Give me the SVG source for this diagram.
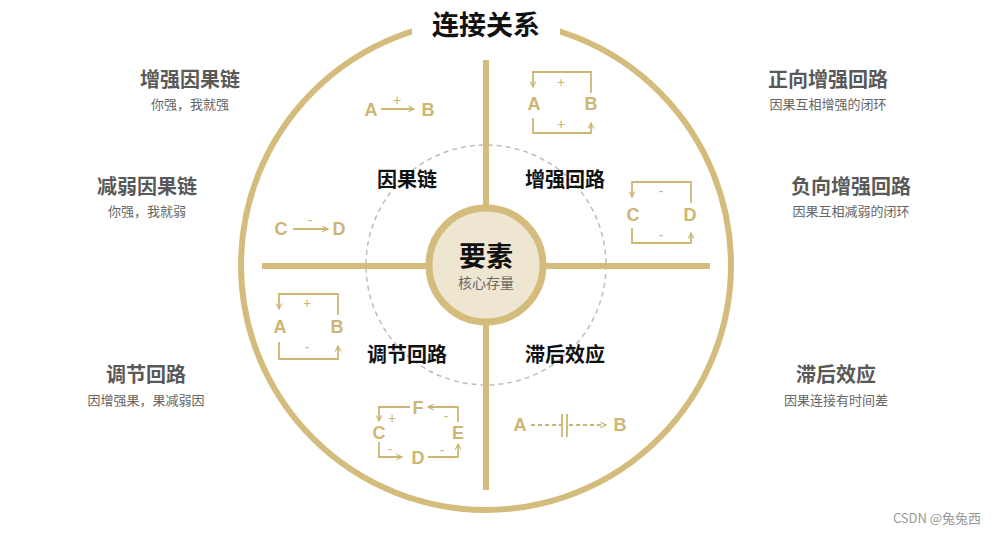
<svg xmlns="http://www.w3.org/2000/svg" width="1003" height="534" viewBox="0 0 1003 534">
<style>
.cjk{font-family:"Noto Sans CJK SC","Noto Sans",sans-serif}
.q{font-family:"Noto Sans CJK SC",sans-serif;font-size:20px;font-weight:bold;fill:#111;text-anchor:middle}
.sh{font-family:"Noto Sans CJK SC",sans-serif;font-size:20px;font-weight:bold;fill:#595959;text-anchor:middle}
.ss{font-family:"Noto Sans CJK SC",sans-serif;font-size:13px;fill:#666;text-anchor:middle}
.L{font-family:"Liberation Sans","Noto Sans",sans-serif;font-size:18px;font-weight:bold;fill:#cdb574;text-anchor:middle}
.s{font-family:"Liberation Sans",sans-serif;font-size:14px;fill:#cdb574;text-anchor:middle}
.ic{fill:none;stroke:#cdb574;stroke-width:1.8}
.main{fill:none;stroke:#d3bc7c;stroke-width:6}
</style>
<defs>
<marker id="ah" viewBox="0 0 10 10" refX="9" refY="5" markerWidth="7" markerHeight="7" markerUnits="userSpaceOnUse" orient="auto-start-reverse"><path d="M1,1 L9,5 L1,9" fill="none" stroke="#cdb574" stroke-width="1.6"/></marker>
</defs>
<rect width="1003" height="534" fill="#fff"/>
<g id="frame">
<circle class="main" cx="486" cy="265" r="245"/>
<rect x="412" y="3" width="148" height="42" fill="#fff"/>
<circle cx="486" cy="265" r="120" fill="none" stroke="#bdbdbd" stroke-width="1.5" stroke-dasharray="5,4"/>
</g>
<g id="connectors">
<line class="main" x1="486" y1="60" x2="486" y2="205"/>
<line class="main" x1="486" y1="325" x2="486" y2="490"/>
<line class="main" x1="262" y1="266" x2="426" y2="266"/>
<line class="main" x1="546" y1="266" x2="710" y2="266"/>
</g>
<g id="title"><text x="486" y="35" class="cjk" font-size="27" font-weight="bold" fill="#111" text-anchor="middle">连接关系</text></g>
<g id="center">
<circle cx="486" cy="265" r="57" fill="#efe6d2" stroke="#d3bc7c" stroke-width="7"/>
<text x="486" y="266" class="cjk" font-size="27" font-weight="bold" fill="#111" text-anchor="middle">要素</text>
<text x="486" y="288" class="cjk" font-size="14" fill="#666" text-anchor="middle">核心存量</text>
</g>
<g id="q1"><text x="407" y="187" class="q">因果链</text></g>
<g id="q2"><text x="565" y="187" class="q">增强回路</text></g>
<g id="q3"><text x="407" y="362" class="q">调节回路</text></g>
<g id="q4"><text x="565" y="362" class="q">滞后效应</text></g>
<g id="side-l1"><text x="190" y="87" class="sh">增强因果链</text><text x="190" y="109" class="ss">你强，我就强</text></g>
<g id="side-l2"><text x="147" y="194" class="sh">减弱因果链</text><text x="147" y="216" class="ss">你强，我就弱</text></g>
<g id="side-l3"><text x="146" y="382" class="sh">调节回路</text><text x="146" y="405" class="ss">因增强果，果减弱因</text></g>
<g id="side-r1"><text x="828" y="87" class="sh">正向增强回路</text><text x="828" y="109" class="ss">因果互相增强的闭环</text></g>
<g id="side-r2"><text x="851" y="194" class="sh">负向增强回路</text><text x="851" y="216" class="ss">因果互相减弱的闭环</text></g>
<g id="side-r3"><text x="836" y="382" class="sh">滞后效应</text><text x="836" y="405" class="ss">因果连接有时间差</text></g>
<g id="icon1">
<text x="371" y="116" class="L">A</text><text x="428" y="116" class="L">B</text>
<line class="ic" x1="381" y1="109" x2="414" y2="109" marker-end="url(#ah)"/>
<text x="397" y="105" class="s">+</text>
</g>
<g id="icon2">
<path class="ic" d="M533,87 V72 H591 V93" marker-start="url(#ah)"/>
<path class="ic" d="M533,118 V133 H591 V123" marker-end="url(#ah)"/>
<text x="534" y="110" class="L">A</text><text x="591" y="110" class="L">B</text>
<text x="561" y="87" class="s">+</text><text x="561" y="129" class="s">+</text>
</g>
<g id="icon3">
<text x="281" y="235" class="L">C</text><text x="339" y="235" class="L">D</text>
<line class="ic" x1="293" y1="229" x2="328" y2="229" marker-end="url(#ah)"/>
<text x="310" y="225" class="s">-</text>
</g>
<g id="icon4">
<path class="ic" d="M632,197 V182 H691 V203" marker-start="url(#ah)"/>
<path class="ic" d="M632,228 V243 H691 V233" marker-end="url(#ah)"/>
<text x="633" y="221" class="L">C</text><text x="690" y="221" class="L">D</text>
<text x="661" y="196" class="s">-</text><text x="661" y="240" class="s">-</text>
</g>
<g id="icon5">
<path class="ic" d="M279,309 V294 H338 V315" marker-start="url(#ah)"/>
<path class="ic" d="M279,342 V359 H338 V346" marker-end="url(#ah)"/>
<text x="280" y="333" class="L">A</text><text x="337" y="333" class="L">B</text>
<text x="307" y="308" class="s">+</text><text x="307" y="352" class="s">-</text>
</g>
<g id="icon6">
<text x="418" y="414" class="L">F</text>
<text x="379" y="439" class="L">C</text>
<text x="458" y="439" class="L">E</text>
<text x="418" y="464" class="L">D</text>
<path class="ic" d="M410,407 H379 V421" marker-end="url(#ah)"/>
<path class="ic" d="M458,422 V407 H428" marker-end="url(#ah)"/>
<path class="ic" d="M379,442 V457 H402" marker-end="url(#ah)"/>
<path class="ic" d="M428,457 H458 V444" marker-end="url(#ah)"/>
<text x="392" y="423" class="s">+</text>
<text x="446" y="421" class="s">-</text>
<text x="390" y="454" class="s">-</text>
<text x="442" y="455" class="s">-</text>
</g>
<g id="icon7">
<text x="520" y="431" class="L">A</text><text x="620" y="431" class="L">B</text>
<line class="ic" x1="531" y1="425" x2="561" y2="425" stroke-dasharray="4,3"/>
<line class="ic" x1="562" y1="414" x2="562" y2="437"/>
<line class="ic" x1="567" y1="414" x2="567" y2="437"/>
<line class="ic" x1="569" y1="425" x2="606" y2="425" stroke-dasharray="4,3" marker-end="url(#ah)"/>
</g>
<g id="watermark"><text x="937" y="523" class="cjk" font-size="13" fill="#999" text-anchor="middle">CSDN @兔兔西</text></g>
</svg>
